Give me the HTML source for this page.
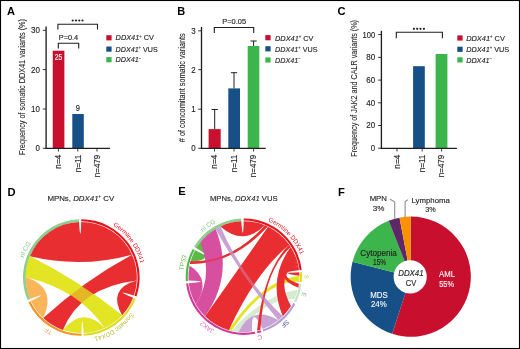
<!DOCTYPE html>
<html><head><meta charset="utf-8"><style>
html,body{margin:0;padding:0;background:#fff;}
svg{display:block;font-family:"Liberation Sans",sans-serif;will-change:transform;}
</style></head><body>
<svg width="520" height="349" viewBox="0 0 520 349" xmlns="http://www.w3.org/2000/svg">
<rect x="0" y="0" width="520" height="349" fill="#fff"/>
<text x="7" y="15" font-size="11" fill="#000" font-weight="bold">A</text>
<text x="177.2" y="15" font-size="11" fill="#000" font-weight="bold">B</text>
<text x="337.4" y="15.1" font-size="11.2" fill="#000" font-weight="bold">C</text>
<text x="7.6" y="195.5" font-size="11.2" fill="#000" font-weight="bold">D</text>
<text x="178.2" y="195.4" font-size="11.2" fill="#000" font-weight="bold">E</text>
<text x="338" y="195.5" font-size="11.2" fill="#000" font-weight="bold">F</text>
<line x1="46.1" y1="26.5" x2="46.1" y2="148.8" stroke="#231f20" stroke-width="1.35"/>
<line x1="42.8" y1="30.3" x2="46" y2="30.3" stroke="#231f20" stroke-width="0.9"/>
<text x="40" y="33.25" font-size="8.5" fill="#231f20" stroke="#231f20" stroke-width="0.14" text-anchor="end" textLength="8.9" lengthAdjust="spacingAndGlyphs">30</text>
<line x1="42.8" y1="69.6" x2="46" y2="69.6" stroke="#231f20" stroke-width="0.9"/>
<text x="40" y="72.55" font-size="8.5" fill="#231f20" stroke="#231f20" stroke-width="0.14" text-anchor="end" textLength="8.9" lengthAdjust="spacingAndGlyphs">20</text>
<line x1="42.8" y1="109" x2="46" y2="109" stroke="#231f20" stroke-width="0.9"/>
<text x="40" y="111.95" font-size="8.5" fill="#231f20" stroke="#231f20" stroke-width="0.14" text-anchor="end" textLength="8.9" lengthAdjust="spacingAndGlyphs">10</text>
<line x1="42.8" y1="148.3" x2="46" y2="148.3" stroke="#231f20" stroke-width="0.9"/>
<text x="40" y="151.25" font-size="8.5" fill="#231f20" stroke="#231f20" stroke-width="0.14" text-anchor="end" textLength="4.4" lengthAdjust="spacingAndGlyphs">0</text>
<rect x="52.75" y="50.7" width="11.65" height="97.6" fill="#c8102e"/>
<rect x="72.3" y="114" width="11.5" height="34.3" fill="#165087"/>
<line x1="45.5" y1="148.3" x2="110" y2="148.3" stroke="#231f20" stroke-width="1.3"/>
<line x1="58.4" y1="148.3" x2="58.4" y2="151.5" stroke="#231f20" stroke-width="0.9"/>
<text transform="translate(61.15 154.7) rotate(-90)" font-size="8.3" fill="#231f20" stroke="#231f20" stroke-width="0.14" text-anchor="end" textLength="14" lengthAdjust="spacingAndGlyphs">n=4</text>
<line x1="77.8" y1="148.3" x2="77.8" y2="151.5" stroke="#231f20" stroke-width="0.9"/>
<text transform="translate(80.55 154.7) rotate(-90)" font-size="8.3" fill="#231f20" stroke="#231f20" stroke-width="0.14" text-anchor="end" textLength="17.6" lengthAdjust="spacingAndGlyphs">n=11</text>
<line x1="97" y1="148.3" x2="97" y2="151.5" stroke="#231f20" stroke-width="0.9"/>
<text transform="translate(99.75 154.7) rotate(-90)" font-size="8.3" fill="#231f20" stroke="#231f20" stroke-width="0.14" text-anchor="end" textLength="22.6" lengthAdjust="spacingAndGlyphs">n=479</text>
<text x="58.6" y="60.1" font-size="8.2" fill="#fff" stroke="#fff" stroke-width="0.1" text-anchor="middle" textLength="7.6" lengthAdjust="spacingAndGlyphs">25</text>
<text x="77.8" y="110.9" font-size="8.2" fill="#231f20" stroke="#231f20" stroke-width="0.14" text-anchor="middle" textLength="4.2" lengthAdjust="spacingAndGlyphs">9</text>
<path d="M57.9,29.5V24.3H97.5V29.5" fill="none" stroke="#231f20" stroke-width="1.1"/>
<path d="M58.3,48.6V43.2H78.7V48.6" fill="none" stroke="#231f20" stroke-width="1.1"/>
<circle cx="72.7" cy="20.5" r="1.1" fill="#231f20"/>
<circle cx="76" cy="20.5" r="1.1" fill="#231f20"/>
<circle cx="79.25" cy="20.5" r="1.1" fill="#231f20"/>
<circle cx="82.5" cy="20.5" r="1.1" fill="#231f20"/>
<text x="58.8" y="39.9" font-size="7.2" fill="#231f20" stroke="#231f20" stroke-width="0.14" textLength="19.4" lengthAdjust="spacingAndGlyphs">P=0.4</text>
<text transform="translate(24.7 155) rotate(-90)" font-size="8.4" fill="#231f20" stroke="#231f20" stroke-width="0.08" textLength="136" lengthAdjust="spacingAndGlyphs">Frequency of somatic DDX41 variants (%)</text>
<rect x="106.3" y="35.2" width="5.3" height="5.2" fill="#c8102e"/>
<text x="115.6" y="40.45" font-size="7.9" fill="#231f20" stroke="#231f20" stroke-width="0.14" textLength="38.4" lengthAdjust="spacingAndGlyphs"><tspan font-style="italic">DDX41</tspan><tspan dy="-2.8" font-size="4.6" stroke-width="0.05">+</tspan><tspan dy="2.8"> CV</tspan></text>
<rect x="106.3" y="46.5" width="5.3" height="5.2" fill="#165087"/>
<text x="115.6" y="51.75" font-size="7.9" fill="#231f20" stroke="#231f20" stroke-width="0.14" textLength="42.1" lengthAdjust="spacingAndGlyphs"><tspan font-style="italic">DDX41</tspan><tspan dy="-2.8" font-size="4.6" stroke-width="0.05">+</tspan><tspan dy="2.8"> VUS</tspan></text>
<rect x="106.3" y="57.1" width="5.3" height="5.2" fill="#3db54d"/>
<text x="115.6" y="62.35" font-size="7.9" fill="#231f20" stroke="#231f20" stroke-width="0.14" textLength="25.7" lengthAdjust="spacingAndGlyphs"><tspan font-style="italic">DDX41</tspan><tspan dy="-2.8" font-size="4.6" stroke-width="0.05">−</tspan><tspan dy="2.8"></tspan></text>
<line x1="201.5" y1="26.9" x2="201.5" y2="148.8" stroke="#231f20" stroke-width="1.35"/>
<line x1="198.2" y1="30.8" x2="201.4" y2="30.8" stroke="#231f20" stroke-width="0.9"/>
<text x="195.6" y="33.75" font-size="8.5" fill="#231f20" stroke="#231f20" stroke-width="0.14" text-anchor="end" textLength="4.4" lengthAdjust="spacingAndGlyphs">3</text>
<line x1="198.2" y1="69.7" x2="201.4" y2="69.7" stroke="#231f20" stroke-width="0.9"/>
<text x="195.6" y="72.65" font-size="8.5" fill="#231f20" stroke="#231f20" stroke-width="0.14" text-anchor="end" textLength="4.4" lengthAdjust="spacingAndGlyphs">2</text>
<line x1="198.2" y1="109.2" x2="201.4" y2="109.2" stroke="#231f20" stroke-width="0.9"/>
<text x="195.6" y="112.15" font-size="8.5" fill="#231f20" stroke="#231f20" stroke-width="0.14" text-anchor="end" textLength="4.4" lengthAdjust="spacingAndGlyphs">1</text>
<line x1="198.2" y1="148.3" x2="201.4" y2="148.3" stroke="#231f20" stroke-width="0.9"/>
<text x="195.6" y="151.25" font-size="8.5" fill="#231f20" stroke="#231f20" stroke-width="0.14" text-anchor="end" textLength="4.4" lengthAdjust="spacingAndGlyphs">0</text>
<rect x="208.6" y="129.1" width="12.1" height="19.2" fill="#c8102e"/>
<rect x="228.3" y="88.4" width="11.7" height="59.9" fill="#165087"/>
<rect x="247.7" y="46" width="11.6" height="102.3" fill="#3db54d"/>
<line x1="214.7" y1="129.1" x2="214.7" y2="109.5" stroke="#231f20" stroke-width="1"/>
<line x1="211.6" y1="109.5" x2="217.8" y2="109.5" stroke="#231f20" stroke-width="1"/>
<line x1="234" y1="88.4" x2="234" y2="72.7" stroke="#231f20" stroke-width="1"/>
<line x1="230.9" y1="72.7" x2="237.1" y2="72.7" stroke="#231f20" stroke-width="1"/>
<line x1="253.6" y1="46" x2="253.6" y2="41" stroke="#231f20" stroke-width="1"/>
<line x1="250.5" y1="41" x2="256.7" y2="41" stroke="#231f20" stroke-width="1"/>
<line x1="200.9" y1="148.3" x2="265.7" y2="148.3" stroke="#231f20" stroke-width="1.3"/>
<line x1="214.5" y1="148.3" x2="214.5" y2="151.5" stroke="#231f20" stroke-width="0.9"/>
<text transform="translate(217.25 154.7) rotate(-90)" font-size="8.3" fill="#231f20" stroke="#231f20" stroke-width="0.14" text-anchor="end" textLength="14" lengthAdjust="spacingAndGlyphs">n=4</text>
<line x1="234" y1="148.3" x2="234" y2="151.5" stroke="#231f20" stroke-width="0.9"/>
<text transform="translate(236.75 154.7) rotate(-90)" font-size="8.3" fill="#231f20" stroke="#231f20" stroke-width="0.14" text-anchor="end" textLength="17.6" lengthAdjust="spacingAndGlyphs">n=11</text>
<line x1="253.6" y1="148.3" x2="253.6" y2="151.5" stroke="#231f20" stroke-width="0.9"/>
<text transform="translate(256.35 154.7) rotate(-90)" font-size="8.3" fill="#231f20" stroke="#231f20" stroke-width="0.14" text-anchor="end" textLength="22.6" lengthAdjust="spacingAndGlyphs">n=479</text>
<path d="M214.3,32.9V27.5H253.7V32.9" fill="none" stroke="#231f20" stroke-width="1.1"/>
<text x="222.2" y="24.3" font-size="7.2" fill="#231f20" stroke="#231f20" stroke-width="0.14" textLength="23.9" lengthAdjust="spacingAndGlyphs">P=0.05</text>
<text transform="translate(185.3 142.2) rotate(-90)" font-size="8.4" fill="#231f20" stroke="#231f20" stroke-width="0.08" textLength="109" lengthAdjust="spacingAndGlyphs"># of concomitant somatic variants</text>
<rect x="265.3" y="35.1" width="5.3" height="5.2" fill="#c8102e"/>
<text x="275" y="40.75" font-size="7.9" fill="#231f20" stroke="#231f20" stroke-width="0.14" textLength="38.5" lengthAdjust="spacingAndGlyphs"><tspan font-style="italic">DDX41</tspan><tspan dy="-2.8" font-size="4.6" stroke-width="0.05">+</tspan><tspan dy="2.8"> CV</tspan></text>
<rect x="265.3" y="46.2" width="5.3" height="5.2" fill="#165087"/>
<text x="275" y="51.75" font-size="7.9" fill="#231f20" stroke="#231f20" stroke-width="0.14" textLength="42.5" lengthAdjust="spacingAndGlyphs"><tspan font-style="italic">DDX41</tspan><tspan dy="-2.8" font-size="4.6" stroke-width="0.05">+</tspan><tspan dy="2.8"> VUS</tspan></text>
<rect x="265.3" y="57.4" width="5.3" height="5.2" fill="#3db54d"/>
<text x="275" y="62.65" font-size="7.9" fill="#231f20" stroke="#231f20" stroke-width="0.14" textLength="25.7" lengthAdjust="spacingAndGlyphs"><tspan font-style="italic">DDX41</tspan><tspan dy="-2.8" font-size="4.6" stroke-width="0.05">−</tspan><tspan dy="2.8"></tspan></text>
<line x1="381.4" y1="30.8" x2="381.4" y2="148.8" stroke="#231f20" stroke-width="1.35"/>
<line x1="378.1" y1="34.6" x2="381.3" y2="34.6" stroke="#231f20" stroke-width="0.9"/>
<text x="375.1" y="37.55" font-size="8.5" fill="#231f20" stroke="#231f20" stroke-width="0.14" text-anchor="end" textLength="12.6" lengthAdjust="spacingAndGlyphs">100</text>
<line x1="378.1" y1="57.4" x2="381.3" y2="57.4" stroke="#231f20" stroke-width="0.9"/>
<text x="375.1" y="60.35" font-size="8.5" fill="#231f20" stroke="#231f20" stroke-width="0.14" text-anchor="end" textLength="8.9" lengthAdjust="spacingAndGlyphs">80</text>
<line x1="378.1" y1="80.1" x2="381.3" y2="80.1" stroke="#231f20" stroke-width="0.9"/>
<text x="375.1" y="83.05" font-size="8.5" fill="#231f20" stroke="#231f20" stroke-width="0.14" text-anchor="end" textLength="8.9" lengthAdjust="spacingAndGlyphs">60</text>
<line x1="378.1" y1="102.8" x2="381.3" y2="102.8" stroke="#231f20" stroke-width="0.9"/>
<text x="375.1" y="105.75" font-size="8.5" fill="#231f20" stroke="#231f20" stroke-width="0.14" text-anchor="end" textLength="8.9" lengthAdjust="spacingAndGlyphs">40</text>
<line x1="378.1" y1="125.5" x2="381.3" y2="125.5" stroke="#231f20" stroke-width="0.9"/>
<text x="375.1" y="128.45" font-size="8.5" fill="#231f20" stroke="#231f20" stroke-width="0.14" text-anchor="end" textLength="8.9" lengthAdjust="spacingAndGlyphs">20</text>
<line x1="378.1" y1="148.2" x2="381.3" y2="148.2" stroke="#231f20" stroke-width="0.9"/>
<text x="375.1" y="151.15" font-size="8.5" fill="#231f20" stroke="#231f20" stroke-width="0.14" text-anchor="end" textLength="4.4" lengthAdjust="spacingAndGlyphs">0</text>
<rect x="413.1" y="66.2" width="11.7" height="82.1" fill="#165087"/>
<rect x="435.6" y="54" width="11.8" height="94.3" fill="#3db54d"/>
<line x1="380.8" y1="148.3" x2="456.9" y2="148.3" stroke="#231f20" stroke-width="1.3"/>
<line x1="397" y1="148.3" x2="397" y2="151.5" stroke="#231f20" stroke-width="0.9"/>
<text transform="translate(399.75 154.7) rotate(-90)" font-size="8.3" fill="#231f20" stroke="#231f20" stroke-width="0.14" text-anchor="end" textLength="14" lengthAdjust="spacingAndGlyphs">n=4</text>
<line x1="422.2" y1="148.3" x2="422.2" y2="151.5" stroke="#231f20" stroke-width="0.9"/>
<text transform="translate(424.95 154.7) rotate(-90)" font-size="8.3" fill="#231f20" stroke="#231f20" stroke-width="0.14" text-anchor="end" textLength="17.6" lengthAdjust="spacingAndGlyphs">n=11</text>
<line x1="441.6" y1="148.3" x2="441.6" y2="151.5" stroke="#231f20" stroke-width="0.9"/>
<text transform="translate(444.35 154.7) rotate(-90)" font-size="8.3" fill="#231f20" stroke="#231f20" stroke-width="0.14" text-anchor="end" textLength="22.6" lengthAdjust="spacingAndGlyphs">n=479</text>
<path d="M396.3,38.3V32.3H442.4V38.3" fill="none" stroke="#231f20" stroke-width="1.1"/>
<circle cx="413.9" cy="28.8" r="1.1" fill="#231f20"/>
<circle cx="417.2" cy="28.8" r="1.1" fill="#231f20"/>
<circle cx="420.5" cy="28.8" r="1.1" fill="#231f20"/>
<circle cx="423.9" cy="28.8" r="1.1" fill="#231f20"/>
<text transform="translate(357.3 156.7) rotate(-90)" font-size="8.4" fill="#231f20" stroke="#231f20" stroke-width="0.08" textLength="136.7" lengthAdjust="spacingAndGlyphs">Frequency of JAK2 and CALR variants (%)</text>
<rect x="457.3" y="35.4" width="5.3" height="5.2" fill="#c8102e"/>
<text x="466.2" y="40.75" font-size="7.9" fill="#231f20" stroke="#231f20" stroke-width="0.14" textLength="38.7" lengthAdjust="spacingAndGlyphs"><tspan font-style="italic">DDX41</tspan><tspan dy="-2.8" font-size="4.6" stroke-width="0.05">+</tspan><tspan dy="2.8"> CV</tspan></text>
<rect x="457.3" y="46.7" width="5.3" height="5.2" fill="#165087"/>
<text x="466.2" y="51.95" font-size="7.9" fill="#231f20" stroke="#231f20" stroke-width="0.14" textLength="43" lengthAdjust="spacingAndGlyphs"><tspan font-style="italic">DDX41</tspan><tspan dy="-2.8" font-size="4.6" stroke-width="0.05">+</tspan><tspan dy="2.8"> VUS</tspan></text>
<rect x="457.3" y="57.3" width="5.3" height="5.2" fill="#3db54d"/>
<text x="466.2" y="62.65" font-size="7.9" fill="#231f20" stroke="#231f20" stroke-width="0.14" textLength="25.7" lengthAdjust="spacingAndGlyphs"><tspan font-style="italic">DDX41</tspan><tspan dy="-2.8" font-size="4.6" stroke-width="0.05">−</tspan><tspan dy="2.8"></tspan></text>
<text x="47.4" y="201.2" font-size="8" fill="#231f20" stroke="#231f20" stroke-width="0.14" textLength="66.9" lengthAdjust="spacingAndGlyphs">MPNs, <tspan font-style="italic">DDX41</tspan><tspan dy="-2.8" font-size="4.6" stroke-width="0.05">+</tspan><tspan dy="2.8"> CV</tspan></text>
<text x="209.9" y="201.2" font-size="8" fill="#231f20" stroke="#231f20" stroke-width="0.14" textLength="67.7" lengthAdjust="spacingAndGlyphs">MPNs, <tspan font-style="italic">DDX41</tspan> VUS</text>
<path d="M410.75,276.7L410.75,216.6A60.1,60.1 0 1 1 392.18,333.86Z" fill="#c8102e"/>
<path d="M410.75,276.7L392.18,333.86A60.1,60.1 0 0 1 352.54,261.75Z" fill="#165087"/>
<path d="M410.75,276.7L352.54,261.75A60.1,60.1 0 0 1 388.63,220.82Z" fill="#3db54d"/>
<path d="M410.75,276.7L388.63,220.82A60.1,60.1 0 0 1 399.49,217.66Z" fill="#5e2868"/>
<path d="M410.75,276.7L399.49,217.66A60.1,60.1 0 0 1 410.75,216.6Z" fill="#fd9200"/>
<circle cx="410.2" cy="276.8" r="16.6" fill="#fff"/>
<text x="410.9" y="276.4" font-size="8.4" fill="#231f20" stroke="#231f20" stroke-width="0.14" text-anchor="middle" font-style="italic" textLength="25.4" lengthAdjust="spacingAndGlyphs">DDX41</text>
<text x="411" y="286.1" font-size="8.4" fill="#231f20" stroke="#231f20" stroke-width="0.14" text-anchor="middle" textLength="10.5" lengthAdjust="spacingAndGlyphs">CV</text>
<text x="447" y="277.2" font-size="8.6" fill="#fff" stroke="#fff" stroke-width="0.1" text-anchor="middle" textLength="16" lengthAdjust="spacingAndGlyphs">AML</text>
<text x="446.6" y="287" font-size="8.6" fill="#fff" stroke="#fff" stroke-width="0.1" text-anchor="middle" textLength="14.8" lengthAdjust="spacingAndGlyphs">55%</text>
<text x="379" y="297.5" font-size="8.6" fill="#fff" stroke="#fff" stroke-width="0.1" text-anchor="middle" textLength="17.6" lengthAdjust="spacingAndGlyphs">MDS</text>
<text x="378.8" y="307.1" font-size="8.6" fill="#fff" stroke="#fff" stroke-width="0.1" text-anchor="middle" textLength="15.8" lengthAdjust="spacingAndGlyphs">24%</text>
<text x="378.6" y="255.9" font-size="8.6" fill="#231f20" stroke="#231f20" stroke-width="0.14" text-anchor="middle" textLength="36.6" lengthAdjust="spacingAndGlyphs">Cytopenia</text>
<text x="379.6" y="265" font-size="8.6" fill="#231f20" stroke="#231f20" stroke-width="0.14" text-anchor="middle" textLength="13.3" lengthAdjust="spacingAndGlyphs">15%</text>
<text x="378.3" y="201.3" font-size="8" fill="#231f20" stroke="#231f20" stroke-width="0.14" text-anchor="middle" textLength="17.3" lengthAdjust="spacingAndGlyphs">MPN</text>
<text x="378.5" y="210.8" font-size="8" fill="#231f20" stroke="#231f20" stroke-width="0.14" text-anchor="middle" textLength="11.6" lengthAdjust="spacingAndGlyphs">3%</text>
<text x="411.4" y="203.2" font-size="8" fill="#231f20" stroke="#231f20" stroke-width="0.14" textLength="38.5" lengthAdjust="spacingAndGlyphs">Lymphoma</text>
<text x="430.5" y="212.1" font-size="8" fill="#231f20" stroke="#231f20" stroke-width="0.14" text-anchor="middle" textLength="10.5" lengthAdjust="spacingAndGlyphs">3%</text>
<path d="M390,199.2L394.7,201.8V218.8" fill="none" stroke="#8f8f8f" stroke-width="1.1"/>
<path d="M407.8,199.8L405.1,201.8V217.6" fill="none" stroke="#8f8f8f" stroke-width="1.1"/>
<path d="M81.2,219.25A58.3,58.3 0 0 1 136.46,296.43L134.47,295.75A56.2,56.2 0 0 0 81.2,221.35Z" fill="#e4141b"/>
<path d="M135.62,298.73A58.3,58.3 0 0 1 83.74,335.8L83.65,333.7A56.2,56.2 0 0 0 133.66,297.96Z" fill="#d9dc1e"/>
<path d="M81.5,335.85A58.3,58.3 0 0 1 28.46,302.19L30.37,301.3A56.2,56.2 0 0 0 81.5,333.75Z" fill="#f7931e"/>
<path d="M27.48,299.95A58.3,58.3 0 0 1 78.86,219.3L78.98,222.1A55.5,55.5 0 0 0 30.06,298.88Z" fill="#8ccf8f"/>
<path d="M29.9,256.36A55.6,55.6 0 0 1 78.97,222Q80.6,245.56 81.2,221.95A55.6,55.6 0 0 1 131.97,254.67Q81.14,268.55 29.9,256.36Z" fill="#e82e30"/>
<path d="M104.8,327.94A55.6,55.6 0 0 1 83.63,333.1Q82.03,309.54 81.49,333.15A55.6,55.6 0 0 1 62.92,330.03Q82.77,305.51 104.8,327.94Z" fill="#e2e424"/>
<path d="M43.24,318.08A55.6,55.6 0 0 1 30.91,301.05Q52.02,290.46 29.97,298.92A55.6,55.6 0 0 1 25.7,277.06Q57.4,287.79 43.24,318.08Z" fill="#fab45a"/>
<path d="M136.82,280.46A55.6,55.6 0 0 1 133.9,295.56Q111.35,288.55 133.1,297.75A55.6,55.6 0 0 1 122.1,315.33Q107.09,288.45 136.82,280.46Z" fill="#e82e30"/>
<path d="M122.1,315.33A55.6,55.6 0 0 1 104.8,327.94Q79.13,289.86 25.7,277.06A55.6,55.6 0 0 1 29.9,256.36Q79.14,280.92 122.1,315.33Z" fill="#e2e424"/>
<path d="M131.97,254.67A55.6,55.6 0 0 1 136.82,280.46Q79.91,287.45 62.92,330.03A55.6,55.6 0 0 1 43.24,318.08Q83.62,280.81 131.97,254.67Z" fill="#e82e30"/>
<path d="M122.1,315.33A55.6,55.6 0 0 1 104.8,327.94Q79.13,289.86 25.7,277.06A55.6,55.6 0 0 1 29.9,256.36Q79.14,280.92 122.1,315.33Z" fill="#e2e424" opacity="0.75"/>
<text font-size="6.3" fill="#e4141b" text-anchor="middle"><textPath href="#dlab" startOffset="57.1">Germline DDX41</textPath></text>
<text font-size="6.3" fill="#bdbb35" text-anchor="middle"><textPath href="#dlab" startOffset="155.2">Somatic DDX41</textPath></text>
<text font-size="6.3" fill="#f5a85b" text-anchor="middle"><textPath href="#dlab" startOffset="223.9">TF</textPath></text>
<text font-size="6.5" fill="#86c886" text-anchor="middle"><textPath href="#dlab" startOffset="314.1">nl CG</textPath></text>
<path d="M243.7,218.5A58.2,58.2 0 0 1 301.7,269.91L299.62,270.15A56.1,56.1 0 0 0 243.7,220.6Z" fill="#e4141b"/>
<path d="M301.92,272.13A58.2,58.2 0 0 1 301.85,282.08L299.76,281.88A56.1,56.1 0 0 0 299.83,272.3Z" fill="#dbe01f"/>
<path d="M301.63,284.1A58.2,58.2 0 0 1 296.21,302.21L294.32,301.29A56.1,56.1 0 0 0 299.55,283.83Z" fill="#c8e3c0"/>
<path d="M295.29,304.02A58.2,58.2 0 0 1 263.33,331.56L262.63,329.58A56.1,56.1 0 0 0 293.43,303.04Z" fill="#b89bd3"/>
<path d="M261.4,332.21A58.2,58.2 0 0 1 257.49,333.29L257,331.25A56.1,56.1 0 0 0 260.77,330.2Z" fill="#d6379a"/>
<path d="M255.3,333.77A58.2,58.2 0 0 1 186.11,283.59L188.19,283.34A56.1,56.1 0 0 0 254.89,331.71Z" fill="#d6379a"/>
<path d="M185.87,281.17A58.2,58.2 0 0 1 192.75,248.93L194.6,249.93A56.1,56.1 0 0 0 187.97,281Z" fill="#4cb848"/>
<path d="M194.01,246.72A58.2,58.2 0 0 1 241.16,218.56L241.29,221.36A55.4,55.4 0 0 0 196.41,248.17Z" fill="#8ccf8f"/>
<path d="M189.89,263.93A55.5,55.5 0 0 1 190.63,261.12Q231.52,262.95 264.96,225.35A55.5,55.5 0 0 1 267.62,226.52Q232.86,264.44 189.89,263.93Z" fill="#e82e30"/>
<path d="M188.54,280.57A55.5,55.5 0 0 1 189.53,265.54Q212.04,279.71 195.84,304.45A55.5,55.5 0 0 1 188.79,283.27Q213.24,281.28 188.54,280.57Z" fill="#d750a0"/>
<path d="M190.69,260.94A55.5,55.5 0 0 1 195.13,250.22Q217,261.29 196.33,248.12A55.5,55.5 0 0 1 200.17,242.53Q215.39,262.17 190.69,260.94Z" fill="#5cb947"/>
<path d="M200.17,242.53A55.5,55.5 0 0 1 215.73,228.88Q233.97,275.48 205,316.29A55.5,55.5 0 0 1 195.84,304.45Q213.96,274.74 200.17,242.53Z" fill="#d750a0"/>
<path d="M299.39,275.73A55.5,55.5 0 0 1 299.16,281.83Q265.07,280.43 231.51,330.8A55.5,55.5 0 0 1 228.51,330.02Q262.12,279.91 299.39,275.73Z" fill="#e2e424"/>
<path d="M297.87,289.66A55.5,55.5 0 0 1 294.6,299.27Q266.94,297.44 238.58,331.94A55.5,55.5 0 0 1 231.7,330.84Q263.59,294.43 297.87,289.66Z" fill="#d7ebd2"/>
<path d="M215.73,228.88A55.5,55.5 0 0 1 220.44,226.4Q242.26,277.85 282.8,316.29A55.5,55.5 0 0 1 278.45,320.13Q242.25,277.83 215.73,228.88Z" fill="#c8a2d2"/>
<path d="M189.89,263.93A55.5,55.5 0 0 1 190.63,261.12Q231.52,262.95 264.96,225.35A55.5,55.5 0 0 1 267.62,226.52Q232.86,264.44 189.89,263.93Z" fill="#e82e30" opacity="0.6"/>
<path d="M278.45,320.13A55.5,55.5 0 0 1 262.61,328.95Q250.72,303.86 252.1,331.59A55.5,55.5 0 0 1 238.58,331.94Q252.23,304.48 278.45,320.13Z" fill="#c8a2d2"/>
<path d="M260.4,329.69A55.5,55.5 0 0 1 257.04,330.62Q263.27,270.96 289.14,244.55A55.5,55.5 0 0 1 290.71,246.88Q264.08,270.53 260.4,329.69Z" fill="#e82e30"/>
<path d="M268.06,226.73A55.5,55.5 0 0 1 289.25,244.71Q254.92,273.23 228.88,330.13A55.5,55.5 0 0 1 205,316.29Q235.97,272.66 268.06,226.73Z" fill="#e82e30"/>
<path d="M215.73,228.88A55.5,55.5 0 0 1 220.44,226.4Q242.26,277.85 282.8,316.29A55.5,55.5 0 0 1 278.45,320.13Q242.25,277.83 215.73,228.88Z" fill="#c8a2d2" opacity="0.4"/>
<path d="M220.44,226.4A55.5,55.5 0 0 1 241.29,221.26Q243.06,244.71 243.71,221.2A55.5,55.5 0 0 1 264.69,225.24Q243.38,246.7 220.44,226.4Z" fill="#e82e30"/>
<path d="M290.71,246.88A55.5,55.5 0 0 1 297.25,261.4Q274.9,276.7 290.97,306.11A55.5,55.5 0 0 1 282.8,316.29Q267.27,279.16 290.71,246.88Z" fill="#e82e30"/>
<path d="M298.38,266.11A55.5,55.5 0 0 1 299.02,270.22Q273.26,273.82 299.23,272.35A55.5,55.5 0 0 1 299.39,275.73Q274.73,273.46 298.38,266.11Z" fill="#e82e30"/>
<path d="M297.25,261.4A55.5,55.5 0 0 1 298.38,266.11Q273.88,275.65 298.95,283.75A55.5,55.5 0 0 1 298.29,287.76Q269.88,275.79 297.25,261.4Z" fill="#e82e30"/>
<text font-size="6.3" fill="#e4141b" text-anchor="middle"><textPath href="#elab" startOffset="48.7">Germline DDX41</textPath></text>
<text font-size="5.5" fill="#c9c43a" text-anchor="middle"><textPath href="#elab" startOffset="95.2">S</textPath></text>
<text font-size="6.3" fill="#8cbf7a" text-anchor="middle"><textPath href="#elab" startOffset="112.6">E</textPath></text>
<text font-size="6.3" fill="#4b4b9c" text-anchor="middle"><textPath href="#elab" startOffset="146.5">SF</textPath></text>
<text font-size="6.3" fill="#e060b0" text-anchor="middle"><textPath href="#elab" startOffset="174.5">C</textPath></text>
<text font-size="6.3" fill="#dc5fae" text-anchor="middle"><textPath href="#elab" startOffset="227.9">JAK2</textPath></text>
<text font-size="6.3" fill="#6cc05a" text-anchor="middle"><textPath href="#elab" startOffset="298.7">TP53</textPath></text>
<text font-size="6.5" fill="#86c886" text-anchor="middle"><textPath href="#elab" startOffset="343.1">nl CG</textPath></text>
<defs><path id="dlab" d="M81.3,216.75A60.8,60.8 0 1 1 81.19,216.75" fill="none"/><path id="elab" d="M243.9,216.1A60.6,60.6 0 1 1 243.79,216.1" fill="none"/></defs>
<rect x="0.5" y="0.5" width="519" height="348" fill="none" stroke="#000" stroke-width="1.1"/>
</svg></body></html>
